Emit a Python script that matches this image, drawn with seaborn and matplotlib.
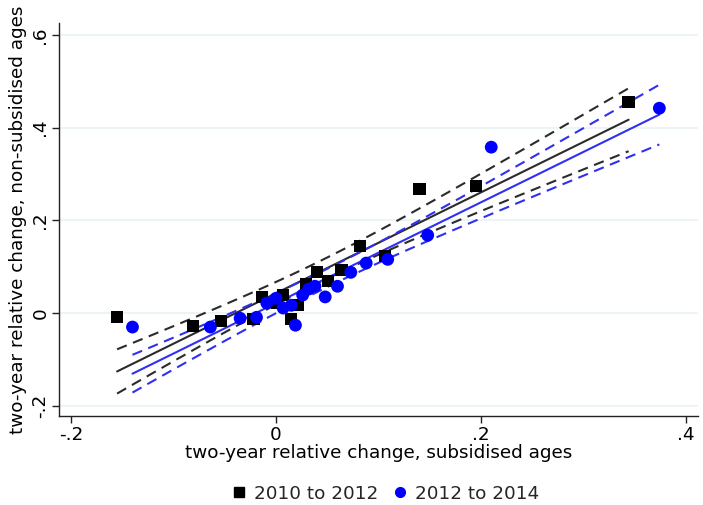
import numpy as np
import pandas as pd
import matplotlib
matplotlib.use("Agg")
import matplotlib.pyplot as plt
from matplotlib.lines import Line2D
import seaborn as sns

# Two-year relative changes: subsidised ages (x) vs non-subsidised ages (y)
x_2010_2012 = [-0.155, -0.081, -0.054, -0.022, -0.014, 0.001, 0.007, 0.015,
               0.021, 0.029, 0.040, 0.051, 0.064, 0.082, 0.106, 0.140,
               0.195, 0.344]
y_2010_2012 = [-0.009, -0.028, -0.017, -0.013, 0.035, 0.022, 0.039, -0.013,
               0.017, 0.062, 0.088, 0.069, 0.093, 0.145, 0.123, 0.267,
               0.274, 0.455]

x_2012_2014 = [-0.140, -0.064, -0.035, -0.019, -0.009, 0.000, 0.007, 0.015,
               0.019, 0.026, 0.032, 0.038, 0.048, 0.060, 0.073, 0.088,
               0.109, 0.148, 0.210, 0.374]
y_2012_2014 = [-0.030, -0.030, -0.011, -0.009, 0.022, 0.032, 0.011, 0.017,
               -0.026, 0.039, 0.052, 0.058, 0.035, 0.058, 0.088, 0.108,
               0.116, 0.168, 0.358, 0.442]

period_labels = ["2010 to 2012", "2012 to 2014"]
x_ticks = [-0.2, 0.0, 0.2, 0.4]
x_tick_labels = ["-.2", "0", ".2", ".4"]
y_ticks = [-0.2, 0.0, 0.2, 0.4, 0.6]
y_tick_labels = ["-.2", "0", ".2", ".4", ".6"]

T_CRIT = {16: 2.1199, 18: 2.1009}

BLACK = "#000000"
BLACK_LINE = "#2b2b2b"
BLUE = "#0000ff"
BLUE_LINE = "#3030f0"
GRID = "#eaf2f3"
FS = 13.2


def fit_with_ci(x, y, n_grid=100):
    x = np.asarray(x, float)
    y = np.asarray(y, float)
    n = len(x)
    b, a = np.polyfit(x, y, 1)
    resid = y - (a + b * x)
    s = np.sqrt(np.sum(resid ** 2) / (n - 2))
    xbar = x.mean()
    sxx = np.sum((x - xbar) ** 2)
    grid = np.linspace(x.min(), x.max(), n_grid)
    yhat = a + b * grid
    se = s * np.sqrt(1.0 / n + (grid - xbar) ** 2 / sxx)
    t = T_CRIT[n - 2]
    return pd.DataFrame({"x": grid, "lo": yhat - t * se, "hi": yhat + t * se})


df = pd.concat([
    pd.DataFrame({"x": x_2010_2012, "y": y_2010_2012, "period": period_labels[0]}),
    pd.DataFrame({"x": x_2012_2014, "y": y_2012_2014, "period": period_labels[1]}),
], ignore_index=True)

sns.set_theme(style="white")
plt.rcParams["font.family"] = ["DejaVu Sans"]

fig = plt.figure(figsize=(7.03, 5.05), dpi=100)
ax = fig.add_axes([0.0839, 0.176, 0.909, 0.778])

for y in y_ticks:
    ax.axhline(y, color=GRID, lw=1.2, zorder=0)

styles = {
    period_labels[0]: dict(color=BLACK, line=BLACK_LINE, marker="s", s=78),
    period_labels[1]: dict(color=BLUE, line=BLUE_LINE, marker="o", s=85),
}

for period in period_labels:
    st = styles[period]
    sub = df[df["period"] == period]
    ci = fit_with_ci(sub["x"], sub["y"])
    for col in ("hi", "lo"):
        sns.lineplot(x=ci["x"], y=ci[col], ax=ax, color=st["line"], lw=1.5,
                     dashes=False, linestyle=(0, (5, 3.2)), zorder=2,
                     estimator=None, sort=False)
    sns.regplot(data=sub, x="x", y="y", ax=ax, scatter=False, ci=None,
                color=st["line"], line_kws=dict(lw=1.5, zorder=2))

for period in period_labels:
    st = styles[period]
    sub = df[df["period"] == period]
    sns.scatterplot(data=sub, x="x", y="y", ax=ax, color=st["color"],
                    marker=st["marker"], s=st["s"], edgecolor="none",
                    linewidth=0, zorder=3, legend=False)

ax.set_xlim(-0.2117, 0.4117)
ax.set_ylim(-0.2221, 0.6253)
ax.set_xticks(x_ticks)
ax.set_xticklabels(x_tick_labels)
ax.set_yticks(y_ticks)
ax.set_yticklabels(y_tick_labels, rotation=90, va="center")

for side in ("top", "right"):
    ax.spines[side].set_visible(False)
for side in ("left", "bottom"):
    ax.spines[side].set_color("#222222")
    ax.spines[side].set_linewidth(1.0)

ax.tick_params(axis="both", which="major", direction="out", length=5,
               width=1.0, color="#222222", labelsize=FS, pad=2,
               labelcolor="#000000", left=True, bottom=True)

ax.set_xlabel("two-year relative change, subsidised ages", fontsize=FS,
              color="#000000", labelpad=0)
ax.set_ylabel("two-year relative change, non-subsidised ages", fontsize=FS,
              color="#000000", labelpad=3)

handles = [
    Line2D([], [], ls="none", marker="s", color=BLACK, markersize=7),
    Line2D([], [], ls="none", marker="o", color=BLUE, markersize=7),
]
fig.legend(handles, period_labels, loc="center", bbox_to_anchor=(0.547, 0.022),
           ncol=2, frameon=False, fontsize=FS, handletextpad=0.3,
           columnspacing=0.7, handlelength=1.0)

fig.savefig("out.png", dpi=100, facecolor="white")
